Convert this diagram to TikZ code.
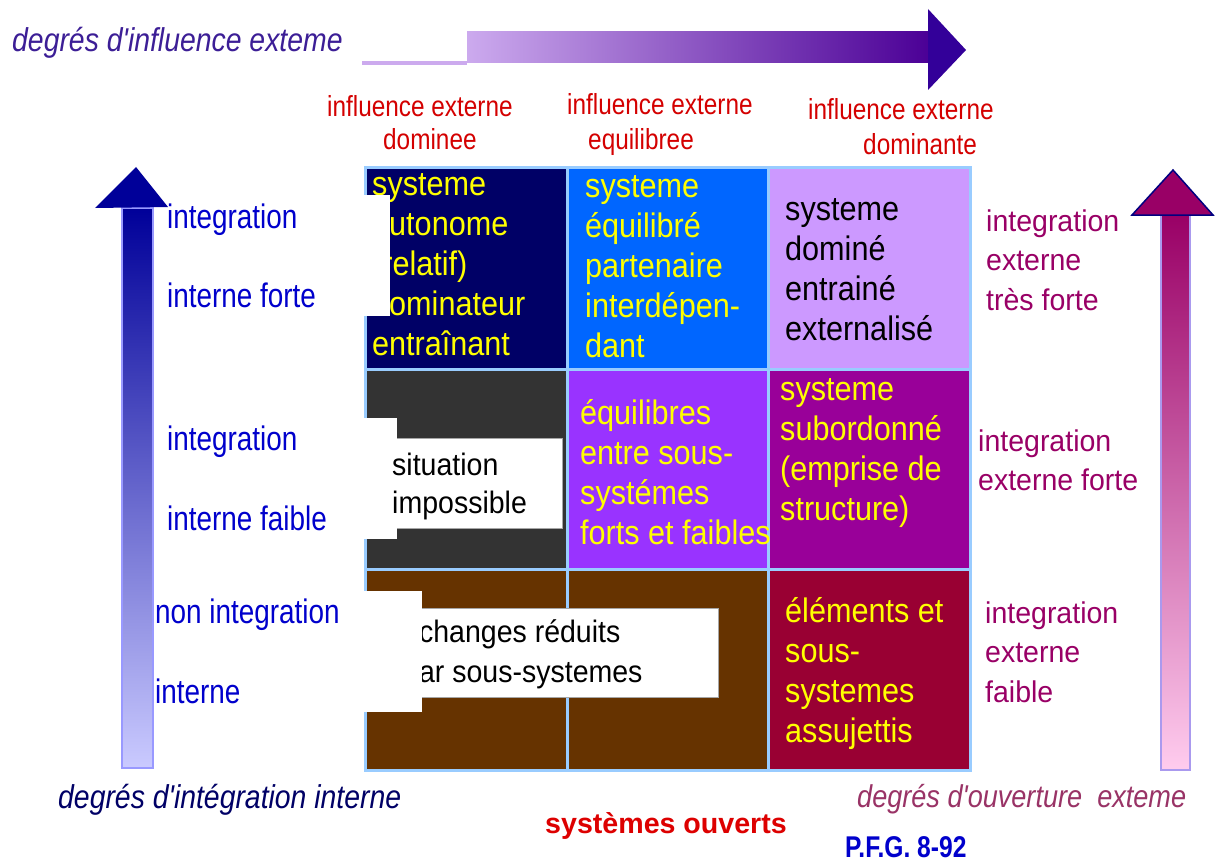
\documentclass[tikz,border=0pt]{standalone}
\usepackage{fontspec}
\setmainfont{Liberation Sans}
\newfontfamily\narA[FakeStretch=0.84]{Liberation Sans}
\newfontfamily\narB[FakeStretch=0.82]{Liberation Sans}
\newfontfamily\narC[FakeStretch=0.95]{Liberation Sans}
\newfontfamily\narD[FakeStretch=0.86]{Liberation Sans}
\newfontfamily\narE[FakeStretch=0.82]{Liberation Sans}
\newfontfamily\narF[FakeStretch=0.9]{Liberation Sans}
\newfontfamily\narG[FakeStretch=0.92]{Liberation Sans}
\definecolor{gridblue}{HTML}{99CCFF}
\definecolor{cNavy}{HTML}{000066}
\definecolor{cBlue}{HTML}{0066FF}
\definecolor{cLilac}{HTML}{CC99FF}
\definecolor{cDark}{HTML}{333333}
\definecolor{cViolet}{HTML}{9933FF}
\definecolor{cPurple}{HTML}{990099}
\definecolor{cBrown}{HTML}{663300}
\definecolor{cWine}{HTML}{990033}
\definecolor{txtYellow}{HTML}{FFFF00}
\definecolor{hdrRed}{HTML}{D40000}
\definecolor{lblBlue}{HTML}{0000CC}
\definecolor{rMag}{HTML}{990066}
\definecolor{topLight}{HTML}{CCAAEE}
\definecolor{topDark}{HTML}{4B0096}
\definecolor{topHead}{HTML}{330099}
\definecolor{lTop}{HTML}{000099}
\definecolor{lBot}{HTML}{CACAFF}
\definecolor{lBorder}{HTML}{9999FF}
\definecolor{rTop}{HTML}{990066}
\definecolor{rBot}{HTML}{FFCCEE}
\definecolor{rBorder}{HTML}{AA99EE}
\definecolor{navyEdge}{HTML}{000080}
\definecolor{capIndigo}{HTML}{3C1E96}
\definecolor{capNavy}{HTML}{000066}
\definecolor{capMag}{HTML}{993366}
\definecolor{redBold}{HTML}{DD0000}
\newcommand\firstln{\rule{0pt}{25pt}}
\begin{document}
\begin{tikzpicture}[x=1pt,y=-1pt,
  celltxt/.style={anchor=north west, inner sep=0pt, align=left, font=\narF\fontsize{34}{40}\selectfont},
  boxtxt/.style={anchor=north west, inner sep=0pt, align=left, text=black, font=\narG\fontsize{31}{38.5}\selectfont},
  hdr/.style={anchor=base west, inner sep=0pt, text=hdrRed, font=\narA\fontsize{29}{33}\selectfont},
  lbl/.style={anchor=base west, inner sep=0pt, text=lblBlue, font=\narB\fontsize{34}{40}\selectfont},
  rlbl/.style={anchor=north west, inner sep=0pt, align=left, text=rMag, font=\narC\fontsize{30}{39.5}\selectfont},
  framedbox/.style={fill=white, draw=gray!70, line width=0.8pt}
]
\useasboundingbox (0,0) rectangle (1217,861);
\fill[white] (0,0) rectangle (1217,861);

% top arrow
\fill[topLight] (362,61) rectangle (467,65);
\shade[left color=topLight, right color=topDark] (467,32) rectangle (929,63);
\fill[topHead] (928,9) -- (966,50) -- (928,90) -- cycle;

% left arrow
\shadedraw[top color=lTop, bottom color=lBot, draw=lBorder, line width=1.5pt] (122,208) rectangle (153,768);
\fill[lTop] (95,208) -- (136,167) -- (168,207) -- cycle;

% right arrow
\shadedraw[top color=rTop, bottom color=rBot, draw=rBorder, line width=1.5pt] (1161,215) rectangle (1190,770);
\filldraw[fill=rTop, draw=navyEdge, line width=1.5pt] (1132,215) -- (1173,170) -- (1213,215) -- cycle;

% cells
\fill[cNavy]   (365,168) rectangle (567,369);
\fill[cBlue]   (567,168) rectangle (768,369);
\fill[cLilac]  (768,168) rectangle (970,369);
\fill[cDark]   (365,369) rectangle (567,569);
\fill[cViolet] (567,369) rectangle (768,569);
\fill[cPurple] (768,369) rectangle (970,569);
\fill[cBrown]  (365,569) rectangle (768,770);
\fill[cWine]   (768,569) rectangle (970,770);
\draw[gridblue, line width=3pt] (365,168) rectangle (970,770);
\draw[gridblue, line width=3pt] (567,168) -- (567,770);
\draw[gridblue, line width=3pt] (768,168) -- (768,770);
\draw[gridblue, line width=3pt] (365,369) -- (970,369);
\draw[gridblue, line width=3pt] (365,569) -- (970,569);

% cell texts
\node[celltxt, text=txtYellow] (t11) at (372,170) {\firstln systeme\\autonome\\(relatif)\\dominateur\\entraînant};
\fill[white] (363,195) rectangle (390,316);
\node[celltxt, text=txtYellow] (t12) at (585,172) {\firstln systeme\\équilibré\\partenaire\\interdépen-\\dant};
\node[celltxt, text=black] (t13) at (785,195) {\firstln systeme\\dominé\\entrainé\\externalisé};

\draw[framedbox] (365,438) rectangle (562,528);
\fill[white] (363,418) rectangle (397,539);
\node[boxtxt] (t21) at (392,450) {\firstln situation\\impossible};
\node[celltxt, text=txtYellow] (t22) at (580,399) {\firstln équilibres\\entre sous-\\systémes\\forts et faibles};
\node[celltxt, text=txtYellow] (t23) at (780,375) {\firstln systeme\\subordonné\\(emprise de\\structure)};

\draw[framedbox] (380,608) rectangle (718,697);
\node[boxtxt, font=\narG\fontsize{31}{40}\selectfont] (t31) at (403,617) {\firstln échanges réduits\\par sous-systemes};
\fill[white] (363,591) rectangle (422,712);
\node[celltxt, text=txtYellow] (t33) at (785,597) {\firstln éléments et\\sous-\\systemes\\assujettis};

% column headers
\node[hdr] (h1a) at (327,117) {influence externe};
\node[hdr] (h1b) at (383,150) {dominee};
\node[hdr] (h2a) at (567,115) {influence externe};
\node[hdr] (h2b) at (588,150) {equilibree};
\node[hdr] (h3a) at (808,120) {influence externe};
\node[hdr] (h3b) at (863,155) {dominante};

% left labels
\node[lbl] (l1) at (167,228) {integration};
\node[lbl] (l2) at (167,307) {interne forte};
\node[lbl] (l3) at (167,450) {integration};
\node[lbl] (l4) at (167,530) {interne faible};
\node[lbl] (l5) at (155,623) {non integration};
\node[lbl] (l6) at (155,703) {interne};

% right labels
\node[rlbl] (r1) at (986,206) {\firstln integration\\externe\\très forte};
\node[rlbl] (r2) at (978,426) {\firstln integration\\externe forte};
\node[rlbl] (r3) at (985,598) {\firstln integration\\externe\\faible};

% captions
\node[anchor=base west, inner sep=0pt, text=capIndigo, font=\narD\itshape\fontsize{33}{36}\selectfont] (capTop) at (12,52) {degrés d'influence exteme};
\node[anchor=base west, inner sep=0pt, text=capNavy, font=\narD\itshape\fontsize{33}{36}\selectfont] (capLeft) at (58,808) {degrés d'intégration interne};
\node[anchor=base west, inner sep=0pt, text=capMag, font=\narD\itshape\fontsize{31.5}{36}\selectfont] (capRight) at (857,807) {degrés d'ouverture\ \ exteme};
\node[anchor=base west, inner sep=0pt, text=redBold, font=\bfseries\fontsize{28.6}{32}\selectfont] (capMid) at (545,833) {systèmes ouverts};
\node[anchor=base west, inner sep=0pt, text=lblBlue, font=\narE\bfseries\fontsize{30}{32}\selectfont] (pfg) at (845,857) {P.F.G. 8-92};
\end{tikzpicture}
\end{document}
